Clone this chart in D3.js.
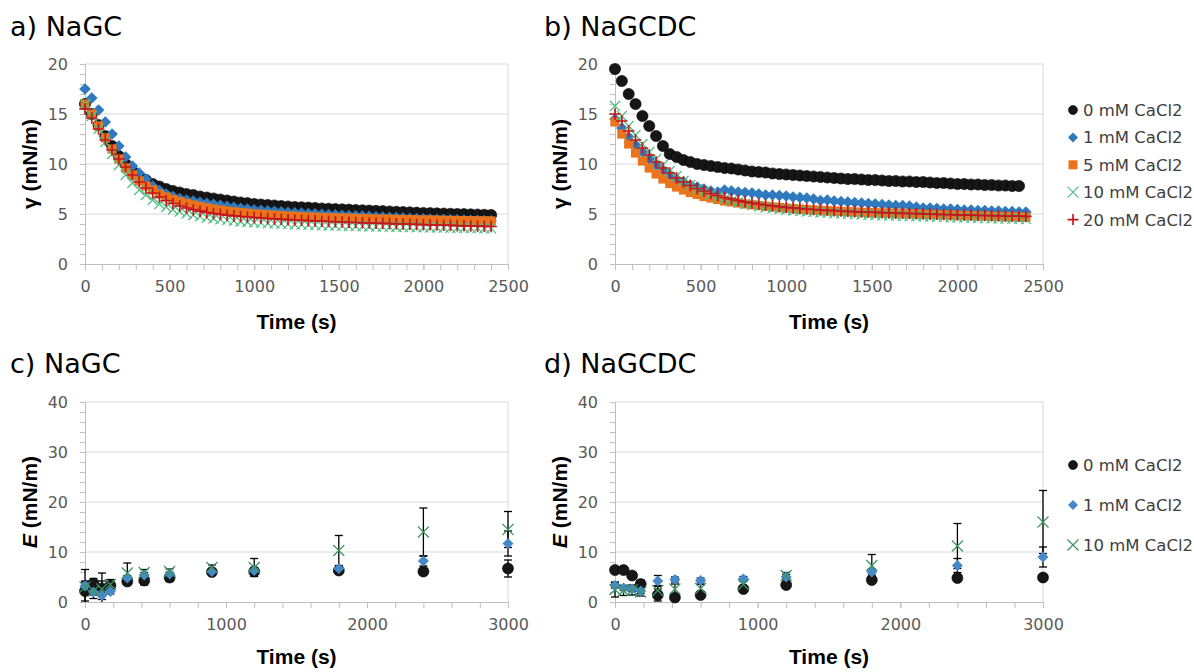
<!DOCTYPE html>
<html><head><meta charset="utf-8">
<script src="https://cdn.jsdelivr.net/npm/d3@7"></script>
<style>body{margin:0;background:#fff}svg{display:block}</style>
</head><body><svg id="chart" width="1194" height="672"></svg>
<script>
// ---------- DATA ----------
// Surface tension time grid (s), panels a & b
const timeA = [0,40,80,120,160,200,240,280,320,360,
  400,440,480,520,560,600,640,680,720,760,
  800,840,880,920,960,1000,1040,1080,1120,1160,
  1200,1240,1280,1320,1360,1400,1440,1480,1520,1560,
  1600,1640,1680,1720,1760,1800,1840,1880,1920,1960,
  2000,2040,2080,2120,2160,2200,2240,2280,2320,2360,
  2400];

// a) NaGC  gamma (mN/m)
const a_0mM = [16.0,15.0,13.9,12.8,11.8,10.8,10.0,9.3,8.8,8.4,
  8.0,7.75,7.5,7.3,7.15,7.0,6.9,6.75,6.65,6.55,
  6.45,6.35,6.25,6.15,6.08,6.0,5.95,5.9,5.85,5.8,
  5.75,5.7,5.67,5.63,5.6,5.55,5.52,5.49,5.46,5.43,
  5.4,5.37,5.34,5.31,5.28,5.25,5.22,5.19,5.16,5.13,
  5.1,5.08,5.06,5.04,5.02,5.0,4.98,4.96,4.94,4.92,
  4.9];
const a_1mM = [17.5,16.6,15.4,14.2,13.0,11.8,10.7,9.8,9.1,8.5,
  7.8,7.35,7.0,6.75,6.55,6.4,6.3,6.17,6.07,5.97,
  5.88,5.78,5.68,5.58,5.5,5.42,5.37,5.32,5.27,5.22,
  5.17,5.12,5.09,5.05,5.02,4.97,4.94,4.91,4.88,4.85,
  4.82,4.79,4.76,4.73,4.7,4.67,4.64,4.61,4.58,4.55,
  4.52,4.5,4.48,4.46,4.44,4.42,4.4,4.38,4.36,4.34,
  4.32];
const a_5mM = [16.0,15.0,13.8,12.6,11.5,10.5,9.6,8.9,8.3,7.8,
  7.4,7.0,6.7,6.45,6.25,6.05,5.9,5.75,5.62,5.5,
  5.4,5.3,5.22,5.15,5.08,5.02,4.97,4.92,4.88,4.84,
  4.8,4.77,4.74,4.71,4.68,4.66,4.64,4.62,4.6,4.58,
  4.56,4.54,4.52,4.5,4.49,4.48,4.46,4.45,4.44,4.42,
  4.41,4.4,4.38,4.37,4.36,4.35,4.34,4.33,4.32,4.31,
  4.3];
const a_10mM = [16.0,14.8,13.5,12.2,11.0,9.9,8.9,8.1,7.4,6.9,
  6.4,6.0,5.7,5.45,5.25,5.05,4.9,4.77,4.65,4.55,
  4.46,4.38,4.31,4.25,4.2,4.15,4.11,4.07,4.04,4.01,
  3.98,3.95,3.93,3.91,3.89,3.87,3.85,3.83,3.81,3.8,
  3.78,3.77,3.75,3.74,3.73,3.71,3.7,3.69,3.68,3.67,
  3.66,3.65,3.64,3.63,3.62,3.61,3.6,3.59,3.58,3.57,
  3.56];
const a_20mM = [15.5,14.6,13.5,12.4,11.4,10.5,9.7,8.9,8.2,7.6,
  7.1,6.7,6.35,6.05,5.8,5.6,5.43,5.28,5.15,5.05,
  4.96,4.88,4.81,4.75,4.7,4.65,4.6,4.55,4.51,4.47,
  4.43,4.4,4.37,4.34,4.31,4.28,4.25,4.22,4.2,4.17,
  4.15,4.12,4.1,4.08,4.06,4.04,4.02,4.0,3.98,3.96,
  3.94,3.92,3.9,3.88,3.86,3.84,3.82,3.8,3.78,3.77,
  3.75];

// b) NaGCDC  gamma (mN/m)
const b_0mM = [19.5,18.3,17.0,16.0,14.8,13.8,12.8,11.8,11.0,10.7,
  10.4,10.2,10.0,9.9,9.8,9.7,9.6,9.55,9.45,9.35,
  9.25,9.2,9.15,9.05,9.0,8.95,8.9,8.85,8.8,8.75,
  8.7,8.65,8.6,8.55,8.5,8.5,8.45,8.4,8.4,8.35,
  8.3,8.3,8.25,8.25,8.2,8.2,8.15,8.1,8.1,8.05,
  8.0,8.0,7.95,7.95,7.9,7.9,7.85,7.85,7.8,7.8,
  null];
const b_1mM = [14.5,13.6,12.7,11.9,11.2,10.5,9.9,9.4,8.9,8.5,
  8.2,7.9,7.7,7.5,7.3,7.2,7.4,7.3,7.2,7.15,
  7.1,7.0,6.9,6.9,6.85,6.8,6.7,6.65,6.6,6.5,
  6.35,6.4,6.3,6.25,6.2,6.15,6.1,6.05,6.0,5.95,
  5.9,5.85,5.85,5.8,5.7,5.6,5.6,5.55,5.5,5.5,
  5.45,5.4,5.4,5.35,5.35,5.3,5.3,5.25,5.25,5.2,
  5.2];
const b_5mM = [14.2,13.0,12.0,11.1,10.3,9.6,9.0,8.5,8.05,7.7,
  7.4,7.15,6.95,6.75,6.6,6.45,6.3,6.2,6.1,6.0,
  5.92,5.84,5.77,5.7,5.64,5.58,5.53,5.48,5.44,5.4,
  5.36,5.32,5.29,5.26,5.23,5.2,5.17,5.14,5.12,5.1,
  5.07,5.05,5.03,5.01,4.99,4.97,4.95,4.93,4.91,4.89,
  4.87,4.85,4.83,4.81,4.79,4.77,4.75,4.73,4.71,4.69,
  4.67];
const b_10mM = [15.8,14.8,13.8,12.9,12.0,11.2,10.5,9.9,9.3,8.8,
  8.3,7.9,7.5,7.2,6.95,6.7,6.5,6.3,6.15,6.0,
  5.88,5.76,5.65,5.56,5.48,5.41,5.35,5.29,5.24,5.19,
  5.15,5.11,5.07,5.04,5.01,4.98,4.95,4.92,4.9,4.87,
  4.85,4.83,4.81,4.79,4.77,4.75,4.73,4.71,4.69,4.67,
  4.65,4.63,4.61,4.6,4.58,4.56,4.55,4.53,4.52,4.5,
  4.49];
const b_20mM = [15.0,14.3,13.3,12.4,11.6,10.9,10.2,9.6,9.1,8.6,
  8.2,7.85,7.55,7.3,7.05,6.85,6.65,6.5,6.35,6.22,
  6.1,6.0,5.9,5.82,5.74,5.67,5.61,5.55,5.5,5.45,
  5.41,5.37,5.33,5.3,5.27,5.24,5.21,5.18,5.16,5.13,
  5.11,5.09,5.07,5.05,5.03,5.01,4.99,4.97,4.95,4.93,
  4.91,4.89,4.88,4.86,4.85,4.83,4.82,4.8,4.79,4.78,
  4.77];

// Dilatational modulus E (mN/m), panels c & d
const timeE = [0,60,120,180,300,420,600,900,1200,1800,2400,3000];
const c_0mM = [2.2,3.7,2.7,3.3,4.1,4.3,4.9,6.0,6.1,6.3,6.1,6.7];
const c_0mM_err = [2.0,1.0,1.5,0.8,0.6,0.9,0.8,0.4,0.5,0.4,0.5,1.7];
const c_1mM = [3.2,2.0,1.3,2.1,4.8,5.4,5.6,6.1,6.3,6.7,8.2,11.7];
const c_1mM_err = [0.8,0.6,0.8,0.5,0.5,0.5,0.4,0.4,0.6,0.4,1.0,2.5];
const c_10mM = [3.0,2.2,2.6,3.5,5.8,5.9,6.1,6.9,6.9,10.3,14.0,14.5];
const c_10mM_err = [3.5,1.5,3.2,1.0,2.0,0.6,0.5,0.5,1.8,3.0,4.8,3.6];

const d_0mM = [6.4,6.4,5.3,3.6,1.4,0.9,1.4,2.6,3.4,4.4,4.8,4.9];
const d_0mM_err = [0.5,0.5,0.5,0.8,1.2,0.5,0.5,0.5,0.4,0.4,0.6,0.4];
const d_1mM = [3.3,2.8,2.6,2.2,4.2,4.5,4.3,4.6,5.0,6.0,7.3,9.0];
const d_1mM_err = [0.5,0.5,0.5,0.5,1.1,0.5,0.5,0.5,0.5,0.6,1.4,2.0];
const d_10mM = [2.5,2.3,2.4,2.0,2.3,2.6,2.7,3.5,5.3,7.3,11.2,16.0];
const d_10mM_err = [1.5,1.0,1.0,0.8,1.0,1.0,0.8,0.8,0.6,2.2,4.5,6.3];

const labelsAB = ["0 mM CaCl2","1 mM CaCl2","5 mM CaCl2","10 mM CaCl2","20 mM CaCl2"];
const labelsCD = ["0 mM CaCl2","1 mM CaCl2","10 mM CaCl2"];
const xTicksAB = [0,500,1000,1500,2000,2500];
const yTicksAB = [0,5,10,15,20];
const xTicksCD = [0,1000,2000,3000];
const yTicksCD = [0,10,20,30,40];
const panelTitles = ["a) NaGC","b) NaGCDC","c) NaGC","d) NaGCDC"];

// ---------- DRAWING ----------
const svg = d3.select("#chart");
svg.append("rect").attr("width",1194).attr("height",672).attr("fill","#fff");

const GRID = "#d9d9d9", AXISC = "#bfbfbf", TICKTXT = "#595959";
const TICKFONT = "'DejaVu Sans', sans-serif";
const BOLDFONT = "'Liberation Sans', Arial, sans-serif";

const shapes = {
  circle: (g, c, s) => g.append("circle").attr("r", s).attr("fill", c).attr("stroke", "#000").attr("stroke-width", 0.6),
  diamond: (g, c, s) => g.append("path").attr("d", `M0,${-s}L${s},0L0,${s}L${-s},0Z`).attr("fill", c),
  square: (g, c, s) => g.append("path").attr("d", `M${-s},${-s}h${2*s}v${2*s}h${-2*s}Z`).attr("fill", c),
  cross: (g, c, s) => g.append("path").attr("d", `M${-s},${-s}L${s},${s}M${-s},${s}L${s},${-s}`).attr("stroke", c).attr("stroke-width", 1.2).attr("fill", "none"),
  plus: (g, c, s) => g.append("path").attr("d", `M${-s},0H${s}M0,${-s}V${s}`).attr("stroke", c).attr("stroke-width", 1.7).attr("fill", "none")
};

function drawPanel(o) {
  const x = d3.scaleLinear().domain([0, o.xMax]).range([o.left, o.right]);
  const y = d3.scaleLinear().domain([0, o.yMax]).range([o.bottom, o.top]);
  const g = svg.append("g");

  g.selectAll("line.grid").data(o.yTicks.filter(v => v > 0)).join("line")
    .attr("x1", o.left).attr("x2", o.right)
    .attr("y1", d => y(d)).attr("y2", d => y(d))
    .attr("stroke", GRID).attr("stroke-width", 1);
  g.append("line").attr("x1", o.right).attr("x2", o.right).attr("y1", o.top).attr("y2", o.bottom)
    .attr("stroke", GRID);

  const yMinor = d3.range(0, o.yMax + 1e-9, o.yMinor);
  const xMinor = d3.range(0, o.xMax + 1e-9, o.xMinor);
  const yMinAx = g.append("g").attr("transform", `translate(${o.left},0)`)
    .call(d3.axisLeft(y).tickValues(yMinor).tickSize(5).tickSizeOuter(0).tickFormat(""));
  const xMinAx = g.append("g").attr("transform", `translate(0,${o.bottom})`)
    .call(d3.axisBottom(x).tickValues(xMinor).tickSize(6).tickSizeOuter(0).tickFormat(""));
  const yAx = g.append("g").attr("transform", `translate(${o.left},0)`)
    .call(d3.axisLeft(y).tickValues(o.yTicks).tickSize(5).tickPadding(12).tickSizeOuter(0));
  const xAx = g.append("g").attr("transform", `translate(0,${o.bottom})`)
    .call(d3.axisBottom(x).tickValues(o.xTicks).tickSize(6).tickPadding(11).tickSizeOuter(0).tickFormat(d3.format("d")));
  [yMinAx, xMinAx, yAx, xAx].forEach(a => {
    a.selectAll("path.domain").attr("stroke", AXISC).attr("stroke-width", 1);
    a.selectAll(".tick line").attr("stroke", AXISC).attr("stroke-width", 1);
    a.selectAll(".tick text").attr("fill", TICKTXT).style("font-family", TICKFONT).style("font-size", "16px");
  });

  (o.series || []).forEach(s => {
    if (!s.err) return;
    o.times.forEach((t, i) => {
      const v = s.values[i], e = s.err[i];
      if (v == null || e == null) return;
      const lo = Math.max(0, v - e), hi = v + e;
      const xp = x(t);
      g.append("line").attr("x1", xp).attr("x2", xp).attr("y1", y(lo)).attr("y2", y(hi))
        .attr("stroke", "#000").attr("stroke-width", 1.3);
      [hi, lo].forEach(val => {
        if (val === 0) return;
        g.append("line").attr("x1", xp - 4).attr("x2", xp + 4).attr("y1", y(val)).attr("y2", y(val))
          .attr("stroke", "#000").attr("stroke-width", 1.3);
      });
    });
  });

  o.series.forEach(s => {
    o.times.forEach((t, i) => {
      const v = s.values[i];
      if (v == null) return;
      const mg = g.append("g").attr("transform", `translate(${x(t)},${y(v)})`);
      shapes[s.shape](mg, s.color, s.size);
    });
  });

  svg.append("text").attr("x", o.titleX).attr("y", o.titleY).text(o.title)
    .style("font-family", TICKFONT).style("font-size", "27px").attr("fill", "#000");
  svg.append("text").attr("x", (o.left + o.right) / 2).attr("y", o.xTitleY).attr("text-anchor", "middle")
    .style("font-family", BOLDFONT).style("font-size", "21px").style("font-weight", "bold").text("Time (s)");
  const yt = svg.append("text")
    .attr("transform", `translate(${o.yTitleX},${(o.top + o.bottom) / 2}) rotate(-90)`)
    .attr("text-anchor", "middle")
    .style("font-family", BOLDFONT).style("font-size", "21px").style("font-weight", "bold");
  yt.append("tspan").style("font-style", o.yItalic ? "italic" : "normal").text(o.ySym);
  yt.append("tspan").text(" (mN/m)");

  if (o.legend) {
    o.series.forEach((s, i) => {
      const ly = o.legend.y0 + i * o.legend.dy;
      const mg = svg.append("g").attr("transform", `translate(${o.legend.x},${ly})`);
      shapes[s.shape](mg, s.color, s.legSize);
      svg.append("text").attr("x", o.legend.x + 10).attr("y", ly + 6).text(s.label)
        .style("font-family", TICKFONT).style("font-size", "16.5px").attr("fill", "#404040");
    });
  }
}

const colAB = { black: "#161616", blue: "#2f79bf", orange: "#e9741b", green: "#4cc080", red: "#c3161d" };
const colCD = { black: "#161616", blue: "#4688c8", green: "#3d9562" };

function abSeries(vals) {
  const shp = ["circle", "diamond", "square", "cross", "plus"];
  const cols = [colAB.black, colAB.blue, colAB.orange, colAB.green, colAB.red];
  const sz = [5.6, 5.8, 4.6, 5, 5.8];
  const lsz = [4.5, 5, 4.5, 5.5, 5.5];
  return vals.map((v, i) => ({ values: v, label: labelsAB[i], shape: shp[i], color: cols[i], size: sz[i], legSize: lsz[i] }));
}
function cdSeries(vals, errs) {
  const shp = ["circle", "diamond", "cross"];
  const cols = [colCD.black, colCD.blue, colCD.green];
  const sz = [5.5, 5.5, 5.5];
  const lsz = [4.5, 5, 5.5];
  return vals.map((v, i) => ({ values: v, err: errs[i], label: labelsCD[i], shape: shp[i], color: cols[i], size: sz[i], legSize: lsz[i] }));
}

drawPanel({ left: 85, right: 508, top: 64, bottom: 264, xMax: 2500, yMax: 20, xTicks: xTicksAB, yTicks: yTicksAB,
  xMinor: 100, yMinor: 1, times: timeA, series: abSeries([a_0mM, a_1mM, a_5mM, a_10mM, a_20mM]),
  title: panelTitles[0], titleX: 10, titleY: 36, xTitleY: 329, yTitleX: 37, ySym: "γ", yItalic: false });
drawPanel({ left: 615, right: 1043, top: 64, bottom: 264, xMax: 2500, yMax: 20, xTicks: xTicksAB, yTicks: yTicksAB,
  xMinor: 100, yMinor: 1, times: timeA, series: abSeries([b_0mM, b_1mM, b_5mM, b_10mM, b_20mM]),
  title: panelTitles[1], titleX: 544, titleY: 36, xTitleY: 329, yTitleX: 567, ySym: "γ", yItalic: false,
  legend: { x: 1073, y0: 110, dy: 27.4 } });
drawPanel({ left: 85, right: 508, top: 402, bottom: 602, xMax: 3000, yMax: 40, xTicks: xTicksCD, yTicks: yTicksCD,
  xMinor: 200, yMinor: 2, times: timeE,
  series: cdSeries([c_0mM, c_1mM, c_10mM], [c_0mM_err, c_1mM_err, c_10mM_err]),
  title: panelTitles[2], titleX: 10, titleY: 373, xTitleY: 664, yTitleX: 37, ySym: "E", yItalic: true });
drawPanel({ left: 615, right: 1043, top: 402, bottom: 602, xMax: 3000, yMax: 40, xTicks: xTicksCD, yTicks: yTicksCD,
  xMinor: 200, yMinor: 2, times: timeE,
  series: cdSeries([d_0mM, d_1mM, d_10mM], [d_0mM_err, d_1mM_err, d_10mM_err]),
  title: panelTitles[3], titleX: 544, titleY: 373, xTitleY: 664, yTitleX: 567, ySym: "E", yItalic: true,
  legend: { x: 1073, y0: 465, dy: 40 } });
</script>
</body></html>
